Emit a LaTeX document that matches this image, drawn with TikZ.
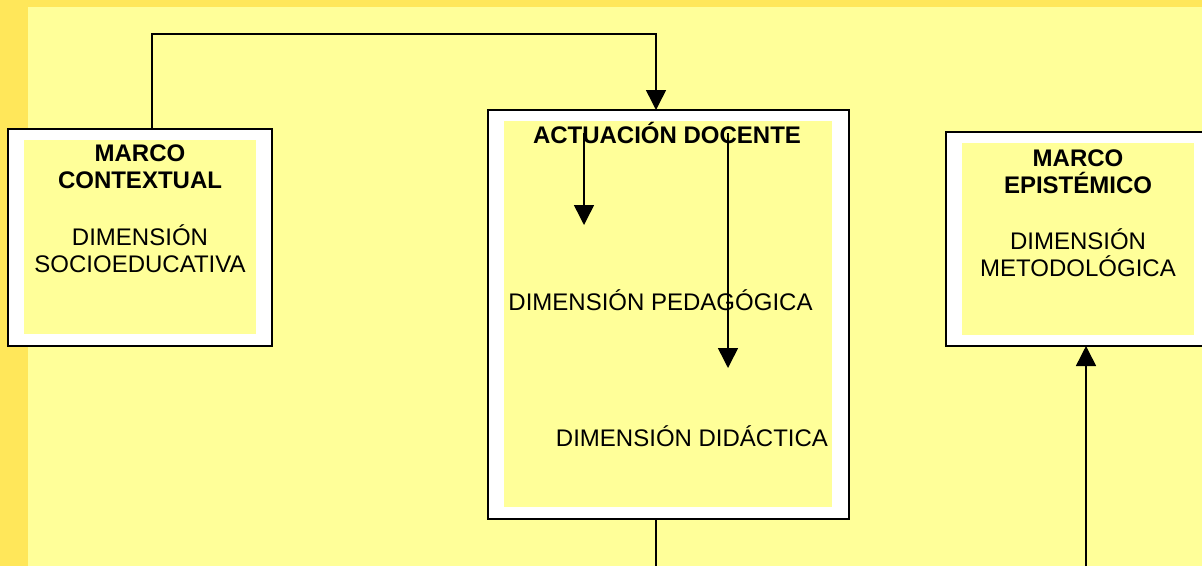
\documentclass[tikz,border=0pt]{standalone}
\usepackage{fontspec}
\setmainfont{Liberation Sans}
\usetikzlibrary{arrows.meta}
\definecolor{fondo}{HTML}{FFFF99}
\definecolor{borde}{HTML}{FFE75A}

\begin{document}
\begin{tikzpicture}[
  x=1pt, y=-1pt,
  marco/.style={draw, line width=1.5pt, fill=white, inner sep=0pt, outer sep=0pt, minimum width=264pt},
  relleno/.style={fill=fondo, inner sep=0pt, minimum width=232pt},
  texto/.style={font=\fontsize{24}{27}\selectfont, align=center, inner sep=0pt},
  flecha/.style={line width=1.5pt, -{Triangle[length=20pt,width=20pt]}},
  linea/.style={line width=1.5pt}
]
\clip (0,0) rectangle (1202,566);
\fill[borde] (0,0) rectangle (1202,566);
\fill[fondo] (28,7) rectangle (1202,566);

\node[marco, minimum height=217pt] (ctx) at (140,237.5) {};
\node[relleno, minimum height=194pt] (ctxin) at (140,237) {};
\node[texto, anchor=north] (ctxtxt) at (140,145)
  {\textbf{MARCO}\\\textbf{CONTEXTUAL}\\[30pt]DIMENSIÓN\\SOCIOEDUCATIVA};

\node[marco, minimum width=361pt, minimum height=409pt] (act) at (668.5,314.5) {};
\node[relleno, minimum width=328pt, minimum height=386pt] (actin) at (668,314) {};
\node[texto, anchor=base] (tit) at (667,143.6) {\textbf{ACTUACIÓN DOCENTE}};
\node[texto, anchor=base] (ped) at (660.5,310.6) {DIMENSIÓN PEDAGÓGICA};
\node[texto, anchor=base] (did) at (692,446.6) {DIMENSIÓN DIDÁCTICA};

\node[marco, minimum height=214pt] (epi) at (1078,239) {};
\node[relleno, minimum height=192pt] (epiin) at (1078,239) {};
\node[texto, anchor=north] (epitxt) at (1078,149.5)
  {\textbf{MARCO}\\\textbf{EPISTÉMICO}\\[29pt]DIMENSIÓN\\METODOLÓGICA};

\coordinate (pa) at (584,225);
\coordinate (pb) at (728,368);
\coordinate (sa) at (656,566);
\coordinate (sb) at (1086,566);

\draw[flecha] ([xshift=12pt]ctx.north) -- ++(0,-95) -| ([xshift=-12.5pt]act.north);
\draw[flecha] (pa |- tit.center) -- (pa);
\draw[flecha] (pb |- tit.center) -- (pb);
\draw[linea] (act.south -| sa) -- (sa);
\draw[flecha] (sb) -- (sb |- epi.south);
\end{tikzpicture}
\end{document}
